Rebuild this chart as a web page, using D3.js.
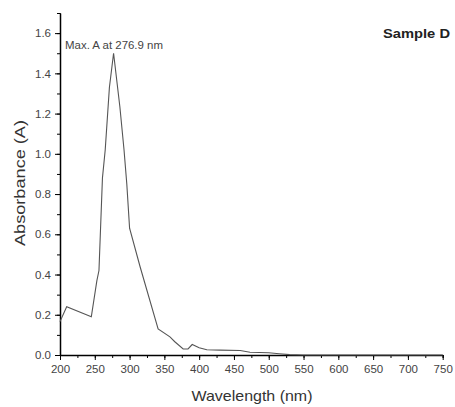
<!DOCTYPE html>
<meta charset="utf-8">
<body style="margin:0;background:#fff">
<script src="https://d3js.org/d3.v7.min.js"></script>
<style>
  body { font-family: "Liberation Sans", Arial, sans-serif; }
  .axis path, .axis line { stroke: #000; fill: none; }
  .axis text { fill: #444; font-size: 11.5px; font-family: "Liberation Sans", Arial, sans-serif; }
</style>
<script>
// spectrum
var wavelength = [200, 209.6, 245, 253, 256, 261, 265, 271, 277, 286, 292, 296, 300, 315, 341, 358, 365, 377, 384, 390, 400, 411, 430, 459, 473, 500, 515, 530, 550, 750];
var absorbance = [0.166, 0.24, 0.19, 0.37, 0.42, 0.88, 1.02, 1.33, 1.50, 1.235, 1.02, 0.85, 0.63, 0.44, 0.13, 0.09, 0.066, 0.03, 0.03, 0.052, 0.036, 0.026, 0.024, 0.022, 0.014, 0.011, 0.006, 0.002, 0, 0];
var xTicks = [200, 250, 300, 350, 400, 450, 500, 550, 600, 650, 700, 750];
var yTicks = [0, 0.2, 0.4, 0.6, 0.8, 1.0, 1.2, 1.4, 1.6];

var width = 455, height = 407;
var margin = {top: 13, right: 12, bottom: 52, left: 60};

var svg = d3.select("body").append("svg")
    .attr("width", width)
    .attr("height", height);

var x = d3.scaleLinear().domain([200, 750]).range([margin.left, 442.7]);
var y = d3.scaleLinear().domain([0, 1.7]).range([355, margin.top]);

// minor ticks
var xMinor = d3.range(200, 751, 25);
var yMinor = d3.range(0, 1.71, 0.1);

svg.append("g")
    .attr("class", "axis")
    .attr("transform", "translate(0,355)")
    .call(d3.axisBottom(x).tickValues(xMinor).tickSize(3).tickFormat(""));

svg.append("g")
    .attr("class", "axis")
    .attr("transform", "translate(0,355)")
    .call(d3.axisBottom(x).tickValues(xTicks).tickSize(5).tickSizeOuter(0).tickPadding(5)
      .tickFormat(d3.format("d")))
  .select(".domain").attr("stroke-width", 1.5);

svg.append("g")
    .attr("class", "axis")
    .attr("transform", "translate(" + margin.left + ",0)")
    .call(d3.axisLeft(y).tickValues(yMinor).tickSize(3).tickFormat(""));

svg.append("g")
    .attr("class", "axis")
    .attr("transform", "translate(" + margin.left + ",0)")
    .call(d3.axisLeft(y).tickValues(yTicks).tickSize(5).tickSizeOuter(0).tickPadding(4)
      .tickFormat(d3.format(".1f")))
  .select(".domain").attr("stroke-width", 1.5);

// spectrum line
var line = d3.line()
    .x(function(d, i) { return x(wavelength[i]); })
    .y(function(d) { return y(d); });

svg.append("path")
    .datum(absorbance)
    .attr("d", line)
    .attr("fill", "none")
    .attr("stroke", "#555")
    .attr("stroke-width", 1.1);

// labels (stretched a bit, like the scanned original)
svg.append("text")
    .attr("x", 252)
    .attr("y", 401)
    .attr("text-anchor", "middle")
    .attr("textLength", 121)
    .attr("lengthAdjust", "spacingAndGlyphs")
    .style("font-size", "14.5px")
    .style("fill", "#333")
    .text("Wavelength (nm)");

svg.append("text")
    .attr("transform", "translate(25,183) rotate(-90)")
    .attr("text-anchor", "middle")
    .attr("textLength", 126)
    .attr("lengthAdjust", "spacingAndGlyphs")
    .style("font-size", "14.5px")
    .style("fill", "#333")
    .text("Absorbance (A)");

svg.append("text")
    .attr("x", 65)
    .attr("y", 49)
    .attr("textLength", 98)
    .attr("lengthAdjust", "spacingAndGlyphs")
    .style("font-size", "10px")
    .style("fill", "#444")
    .text("Max. A at 276.9 nm");

svg.append("text")
    .attr("x", 383)
    .attr("y", 38)
    .attr("textLength", 67)
    .attr("lengthAdjust", "spacingAndGlyphs")
    .style("font-size", "12.5px")
    .style("font-weight", "bold")
    .style("fill", "#222")
    .text("Sample D");
</script>
